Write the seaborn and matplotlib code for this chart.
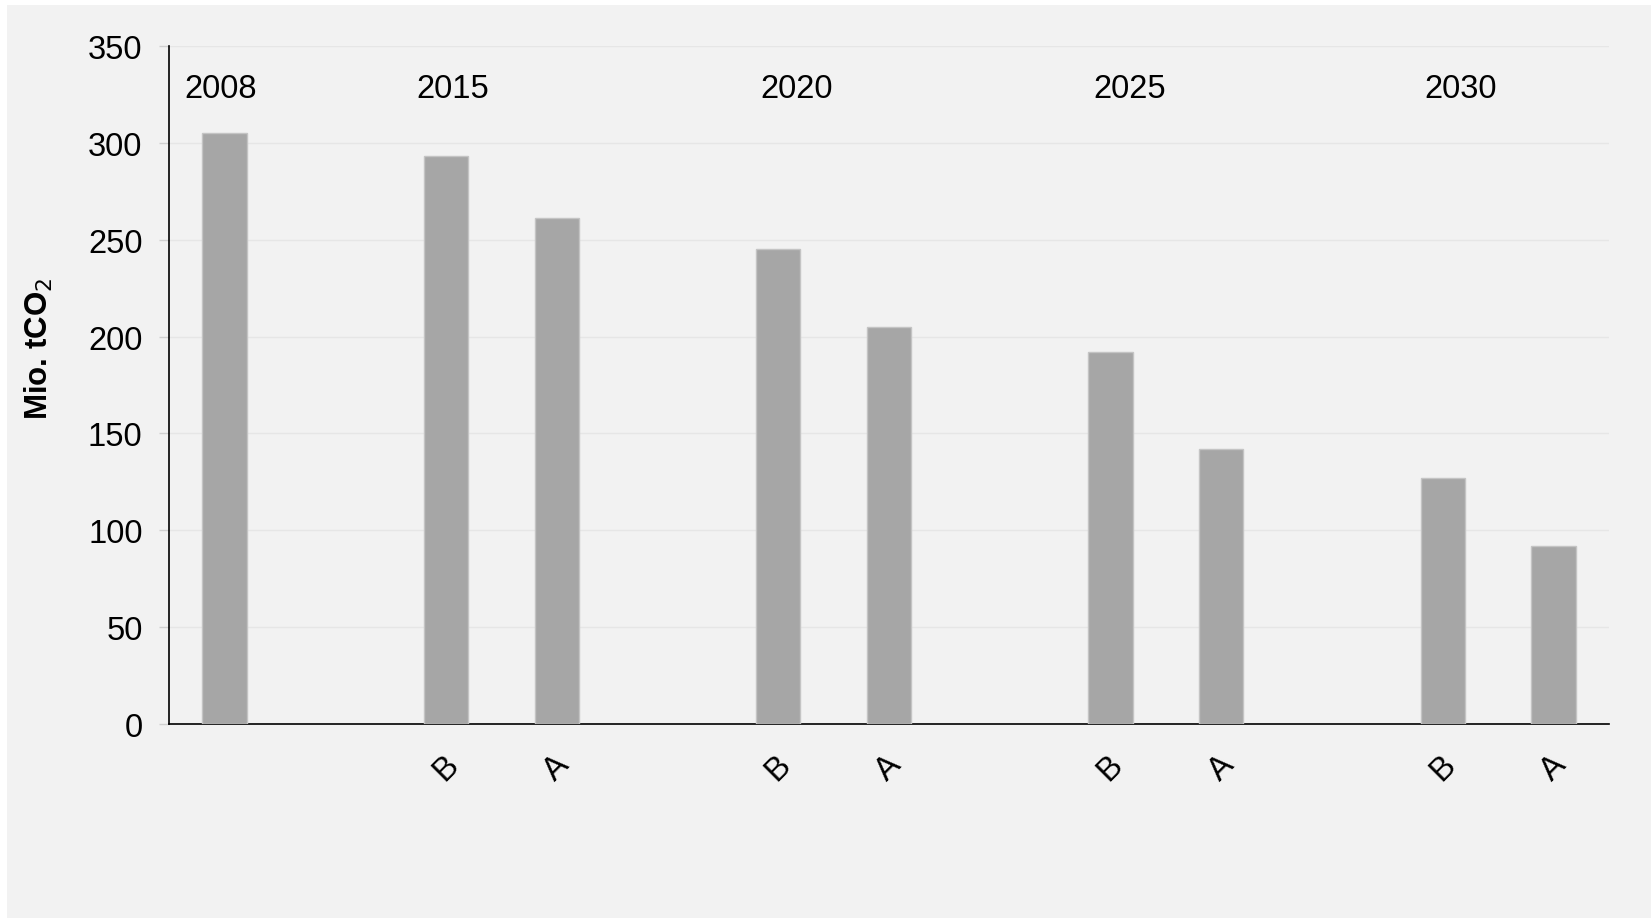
import matplotlib
matplotlib.use("Agg")
import matplotlib.pyplot as plt
import seaborn as sns
import pandas as pd
from matplotlib.patches import Rectangle

# ---- data ----
slots = ["2008", "gap1", "2015 B", "2015 A", "gap2", "2020 B", "2020 A",
         "gap3", "2025 B", "2025 A", "gap4", "2030 B", "2030 A"]
tick_labels = ["", "", "B", "A", "", "B", "A", "", "B", "A", "", "B", "A"]
bar_slots = ["2008", "2015 B", "2015 A", "2020 B", "2020 A",
             "2025 B", "2025 A", "2030 B", "2030 A"]
values = [305, 293, 261, 245, 205, 192, 142, 127, 92]
year_labels = ["2008", "2015", "2020", "2025", "2030"]
year_anchor = ["2008", "2015 B", "2020 B", "2025 B", "2030 B"]
y_ticks = [0, 50, 100, 150, 200, 250, 300, 350]

df = pd.DataFrame({"slot": bar_slots, "value": values})

sns.set_theme(style="white")
plt.rcParams["font.family"] = ["Liberation Sans", "DejaVu Sans"]

fig = plt.figure(figsize=(16.51, 9.2), dpi=100, facecolor="white")
fig.patches.append(Rectangle((7 / 1651, 1 / 920), 1 - 7 / 1651, 1 - 7 / 920,
                             transform=fig.transFigure, facecolor="#f2f2f2",
                             edgecolor="none", zorder=-10))
ax = fig.add_axes([169 / 1651, 1 - 725 / 920, (1609 - 169) / 1651, (725 - 47) / 920])
ax.set_facecolor("#f2f2f2")

sns.barplot(data=df, x="slot", y="value", order=slots, color="#a6a6a6",
            width=0.4, saturation=1, edgecolor="#c4c4c4", linewidth=1, ax=ax,
            zorder=3)

ax.set_xlim(-0.5, len(slots) - 0.5)
ax.set_ylim(0, 350)
ax.set_yticks(y_ticks)
ax.set_yticklabels([str(t) for t in y_ticks], fontsize=23.5, color="black")
ax.set_xticks(range(len(slots)))
ax.set_xticklabels(tick_labels, rotation=45, fontsize=23.5, color="black", ha="center")
ax.tick_params(axis="x", length=0, pad=18)
ax.tick_params(axis="y", length=7, width=1, color="#d0d0d0", pad=12, left=True)
ax.yaxis.grid(True, color="#e6e6e6", linewidth=1, zorder=0)
ax.set_axisbelow(True)

for s in ["top", "right"]:
    ax.spines[s].set_visible(False)
for s in ["left", "bottom"]:
    ax.spines[s].set_color("black")
    ax.spines[s].set_linewidth(1.2)

ax.set_xlabel("")
ax.set_ylabel("Mio. tCO$_2$", fontsize=22.5, fontweight="bold", color="black")
ax.yaxis.set_label_coords(-0.079, 0.555)

offsets = [-0.03, 0.06, 0.17, 0.17, 0.16]
for lab, anc, off in zip(year_labels, year_anchor, offsets):
    ax.text(slots.index(anc) + off, 328, lab, ha="center", va="center",
            fontsize=23.5, color="black")

fig.savefig("out.png", dpi=100, facecolor=fig.get_facecolor())
